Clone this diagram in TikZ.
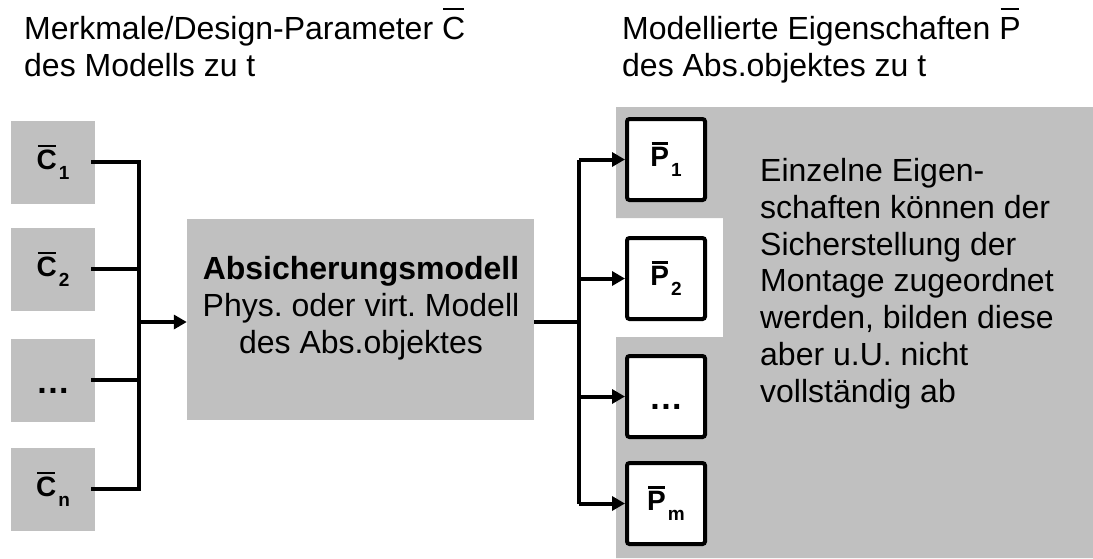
\documentclass[tikz,border=0pt]{standalone}
\usepackage{fontspec}
\setmainfont{Liberation Sans}
\usetikzlibrary{arrows.meta}
\frenchspacing

\definecolor{boxgray}{RGB}{192,192,192}

% letter with a bar over it: #1 gap, #2 bar thickness, #3 letter
\newcommand\obar[3]{\leavevmode\setbox0=\hbox{#3}%
  \rlap{\kern1.2pt\raisebox{\dimexpr\ht0+#1\relax}{\rule{\dimexpr\wd0-2.4pt\relax}{#2}}}\box0}
% bold barred symbol with index
\newcommand\bsym[2]{\obar{2.5pt}{2.6pt}{\bfseries #1}\kern2pt\raisebox{-10pt}{\fontsize{19}{19}\selectfont\bfseries #2}}
% bold dots standing for further entries
\newcommand\moredots[1]{{\fontsize{34}{34}\selectfont\bfseries\vphantom{#1}\raisebox{-3pt}{.\kern1.5pt.\kern1.5pt.}}}

\tikzset{
  txt/.style={font=\fontsize{32}{37}\selectfont, inner sep=0},
  cbox/.style={fill=boxgray, draw=none, minimum width=84, minimum height=83, inner sep=0,
    font=\fontsize{28}{30}\selectfont},
  pbox/.style={fill=white, draw=black, line width=4, rounded corners=2.5, minimum width=78,
    minimum height=81, inner sep=0, font=\fontsize{28}{30}\selectfont},
  conn/.style={line width=4},
  arr/.style={conn, -{Triangle[length=13,width=14]}},
}

\begin{document}
\begin{tikzpicture}[x=1pt,y=-1pt]
\useasboundingbox (0,0) rectangle (1093,558);

% headings (anchored at the baseline of their last line)
\node[txt, anchor=base west, align=left] (hl) at (24,76)
  {Merkmale/Design-Parameter \obar{6.5pt}{2pt}{C}\\des Modells zu t};
\node[txt, anchor=base west, align=left] (hr) at (622,76)
  {Modellierte Eigenschaften \obar{6.5pt}{2pt}{P}\\des Abs.objektes zu t};

% gray field behind the properties
\fill[boxgray] (616,107) -- (1093,107) -- (1093,558) -- (616,558) -- (616,337)
  -- (723,337) -- (723,218) -- (616,218) -- cycle;

% design parameters
\node[cbox] (C1) at (53,162) {\bsym{C}{1}};
\node[cbox] (C2) at (53,269) {\bsym{C}{2}};
\node[cbox] (Cd) at (53,380) {\moredots{C}};
\node[cbox] (Cn) at (53,489) {\bsym{C}{n}};

% model
\node[fill=boxgray, minimum width=347, minimum height=201, inner sep=0] (model) at (360.5,319.5) {};
\node[txt, anchor=base, align=center] (modeltext) at (361,353)
  {\textbf{Absicherungsmodell}\\Phys. oder virt. Modell\\des Abs.objektes};

% properties
\node[pbox] (P1) at (666,159.5) {\bsym{P}{1}};
\node[pbox] (P2) at (666,278.5) {\bsym{P}{2}};
\node[pbox] (Pd) at (666,396.5) {\moredots{P}};
\node[pbox] (Pm) at (666,503.5) {\bsym{P}{m}};

\node[txt, anchor=base west, align=left, font=\fontsize{32}{36.7}\selectfont] (note) at (760,402)
  {Einzelne Eigen-\\schaften können der\\Sicherstellung der\\Montage zugeordnet\\werden, bilden diese\\aber u.U. nicht\\vollständig ab};

% connectors
\coordinate (jl) at (139,322);
\coordinate (jr) at (579,322);
\draw[conn] ([xshift=-4pt]C1.east) -- (C1.east -| jl) -- (Cn.east -| jl) -- ([xshift=-4pt]Cn.east);
\draw[conn] ([xshift=-4pt]C2.east) -- (C2.east -| jl);
\draw[conn] ([xshift=-4pt]Cd.east) -- (Cd.east -| jl);
\draw[arr] (jl) -- (jl -| model.west);

\draw[conn] (jr -| model.east) -- (jr);
\draw[conn] (P1.west -| jr) -- (Pm.west -| jr);
\draw[arr] (P1.west -| jr) -- (P1.west);
\draw[arr] (P2.west -| jr) -- (P2.west);
\draw[arr] (Pd.west -| jr) -- (Pd.west);
\draw[arr] (Pm.west -| jr) -- (Pm.west);
\end{tikzpicture}
\end{document}
